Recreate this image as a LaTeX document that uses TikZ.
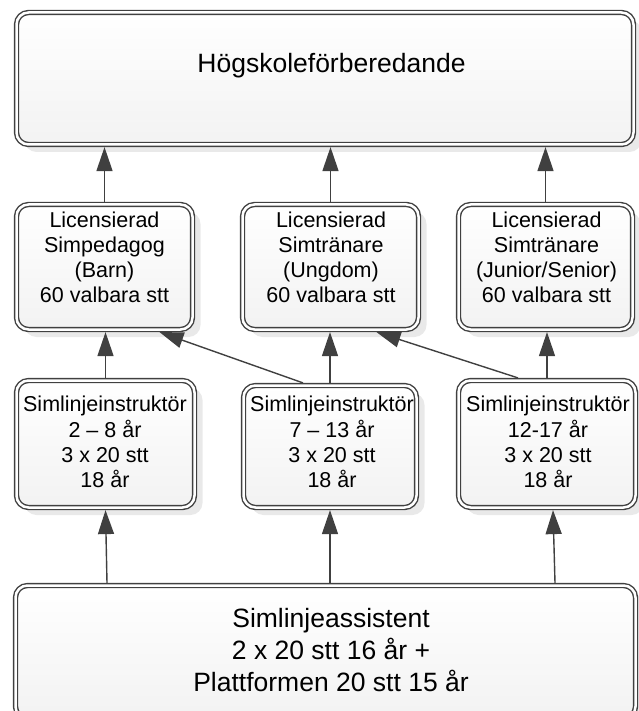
\documentclass[tikz,border=0pt]{standalone}
\usepackage{fontspec}
\setmainfont{Liberation Sans}
\usetikzlibrary{arrows.meta,shadows}
\definecolor{lc}{RGB}{64,64,64}
\begin{document}
\begin{tikzpicture}[x=1pt,y=-1pt,
  box/.style={draw=lc, line width=1.4pt, double=white, double distance=2.5pt,
    rounded corners=12pt, top color=white, bottom color=black!5,
    drop shadow={shadow xshift=8pt, shadow yshift=-7.5pt, fill=black!17},
    inner sep=0pt, outer sep=2.6pt, anchor=center},
  midtext/.style={align=center, inner sep=0pt, font=\fontsize{21.5}{25}\selectfont},
  lowtext/.style={align=center, inner sep=0pt, font=\fontsize{21.5}{25.3}\selectfont},
  bigtext/.style={align=center, inner sep=0pt, font=\fontsize{26.5}{32}\selectfont},
  conn/.style={draw=lc, line width=1.4pt, -{Triangle[length=24pt,width=16pt]}}
]
\useasboundingbox (0,0) rectangle (638,711);

% top box
\node[box, minimum width=617pt, minimum height=132pt] (top) at (325,78.5) {};
\node[bigtext] (toptext) at (331.5,66.1) {Högskoleförberedande};

% middle row
\node[box, minimum width=176pt, minimum height=125pt] (m1) at (104.5,267) {};
\node[box, minimum width=176pt, minimum height=125pt] (m2) at (330.5,267) {};
\node[box, minimum width=174pt, minimum height=125pt] (m3) at (545.5,267) {};
\node[midtext] (m1t) at (104.5,257.6) {Licensierad\\Simpedagog\\(Barn)\\60 valbara stt};
\node[midtext] (m2t) at (331,257.6) {Licensierad\\Simtränare\\(Ungdom)\\60 valbara stt};
\node[midtext] (m3t) at (546.5,257.6) {Licensierad\\Simtränare\\(Junior/Senior)\\60 valbara stt};

% lower row
\node[box, minimum width=178pt, minimum height=127pt] (l1) at (105.5,444) {};
\node[box, minimum width=173pt, minimum height=122pt] (l2) at (330,446.5) {};
\node[box, minimum width=177pt, minimum height=127pt] (l3) at (547,444) {};
\node[lowtext] (l1t) at (105,442) {Simlinjeinstruktör\\2 – 8 år\\3 x 20 stt\\18 år};
\node[lowtext] (l2t) at (332,442) {Simlinjeinstruktör\\7 – 13 år\\3 x 20 stt\\18 år};
\node[lowtext] (l3t) at (548,442) {Simlinjeinstruktör\\12-17 år\\3 x 20 stt\\18 år};

% bottom box
\node[box, minimum width=620pt, minimum height=133pt] (asst) at (325.5,652) {};
\node[bigtext] (asstt) at (331,650.2) {Simlinjeassistent\\2 x 20 stt 16 år +\\Plattformen 20 stt 15 år};

% connectors
\draw[conn] (m1.north) -- (m1.north |- top.south);
\draw[conn] (m2.north) -- (m2.north |- top.south);
\draw[conn] (m3.north) -- (m3.north |- top.south);

\draw[conn] (l1.north) -- (l1.north |- m1.south);
\draw[conn] (l2.north) -- (l2.north |- m2.south);
\draw[conn] (l3.north) -- (l3.north |- m3.south);
\draw[conn] ([xshift=-27pt]l2.north) -- ([xshift=55pt]m1.south);
\draw[conn] ([xshift=-29pt]l3.north) -- ([xshift=46pt]m2.south);

\draw[conn] ([xshift=1.5pt]l1.south |- asst.north) -- (l1.south);
\draw[conn] (l2.south |- asst.north) -- (l2.south);
\draw[conn] ([xshift=8pt]l3.south |- asst.north) -- ([xshift=6pt]l3.south);
\end{tikzpicture}
\end{document}
